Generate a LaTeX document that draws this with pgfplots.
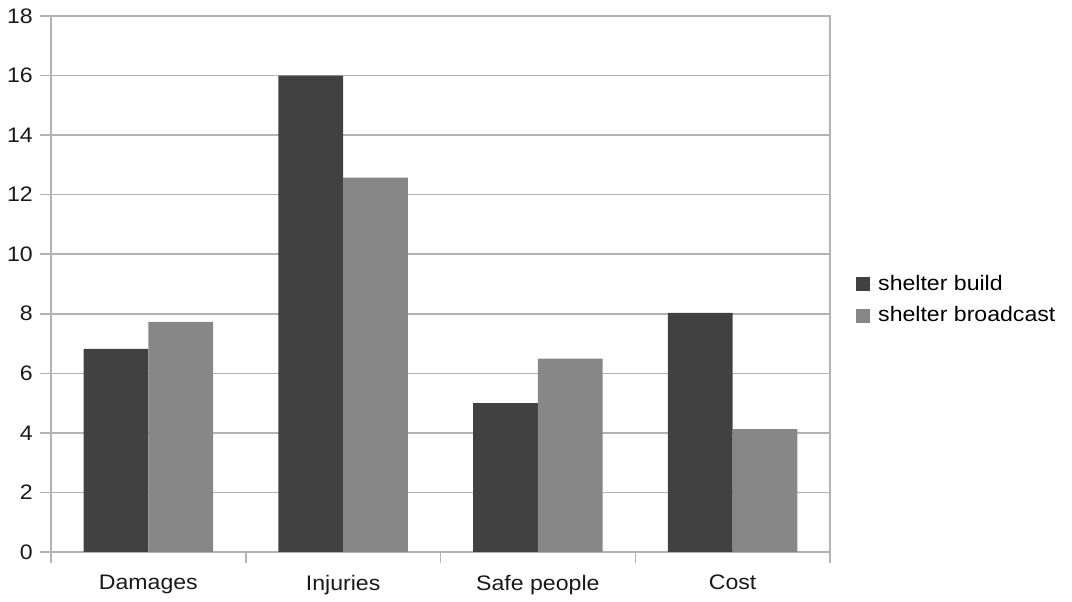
\documentclass[border=0pt]{standalone}
\usepackage{pgfplots}
\pgfplotsset{compat=1.18}
\usepackage{fontspec}
\setmainfont[FakeStretch=1.1]{Liberation Sans}
\definecolor{darkbar}{HTML}{414141}
\definecolor{lightbar}{HTML}{878787}
\definecolor{gridgray}{HTML}{B3B3B3}
\begin{document}
\fontsize{21pt}{25pt}\selectfont
\begin{tikzpicture}
\begin{axis}[
    scale only axis,
    width=779pt, height=536pt,
    ybar=0pt, bar width=0.333,
    xmin=-0.5, xmax=3.5, ymin=0, ymax=18,
    ytick={0,2,...,18},
    xtick={-0.5,0.5,1.5,2.5,3.5}, xticklabels={},
    extra x ticks={0,1,2,3},
    extra x tick labels={Damages,Injuries,Safe people,Cost},
    extra x tick style={major tick length=0pt, xticklabel style={yshift=-16pt}},
    xtick pos=bottom, ytick pos=left,
    tick align=outside, major tick length=11pt,
    ymajorgrids,
    major grid style={gridgray, line width=1.5pt},
    axis line style={gridgray, line width=1.5pt},
    tick style={gridgray, line width=1.5pt},
    ticklabel style={font=\fontsize{21pt}{25pt}\selectfont, text=black!90},
    /pgf/number format/assume math mode=true,
    legend style={draw=none, fill=none, at={(1,0.47)}, xshift=26pt, anchor=west,
        font=\fontsize{21pt}{25pt}\selectfont, row sep=9pt, inner sep=0pt},
    legend cell align=left,
    legend image code/.code={\fill[#1] (0pt,-7pt) rectangle (14pt,7pt);
        \path (0pt,0pt) -- (20pt,0pt);},
]
\addplot[fill=darkbar, draw=none] coordinates {(0,6.82) (1,16) (2,5.0) (3,8.03)};
\addlegendentry{shelter build}
\addplot[fill=lightbar, draw=none] coordinates {(0,7.73) (1,12.57) (2,6.49) (3,4.13)};
\addlegendentry{shelter broadcast}
\end{axis}
\path (-51pt,-46pt) rectangle (1021pt,552pt);
\end{tikzpicture}
\end{document}
